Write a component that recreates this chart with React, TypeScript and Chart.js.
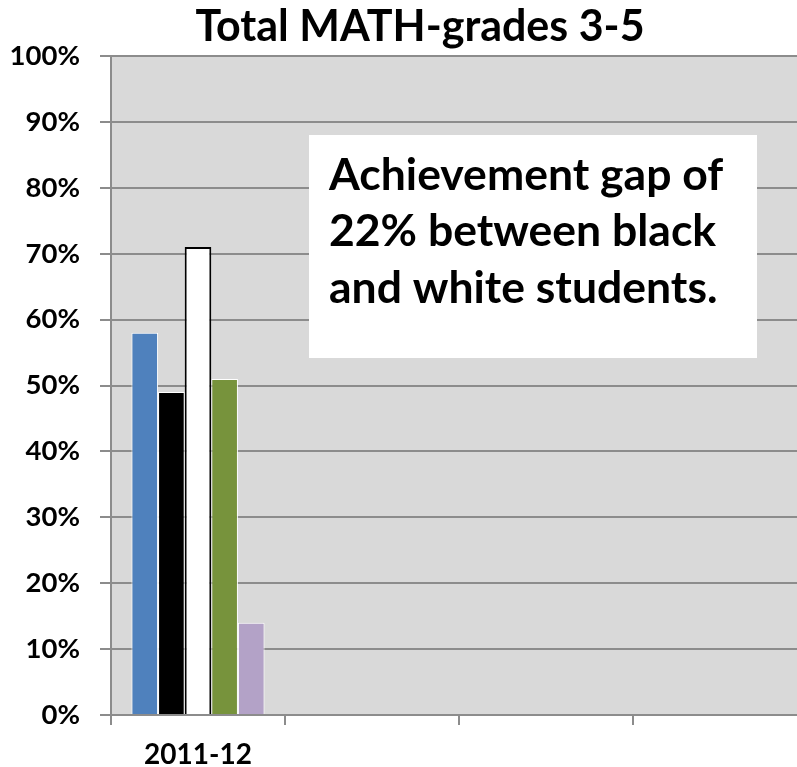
import React, { useEffect, useRef } from "react";
import { Chart, registerables } from "chart.js";

Chart.register(...registerables);

const categories = ["2011-12", "", "", ""];
const allStudents = [58, null, null, null];
const blackStudents = [49, null, null, null];
const whiteStudents = [71, null, null, null];
const econDisadv = [51, null, null, null];
const swd = [14, null, null, null];
const yTicks = [0, 10, 20, 30, 40, 50, 60, 70, 80, 90, 100];
const titleText = "Total MATH-grades 3-5";
const noteLines = ["Achievement gap of", "22% between black", "and white students."];

const FONT = "Lato, 'Open Sans', sans-serif";
const GRID = "#8C8C8C";

export default function App() {
  const ref = useRef<HTMLCanvasElement | null>(null);

  useEffect(() => {
    const canvas = ref.current;
    if (!canvas) return;

    const bgPlugin = {
      id: "bgPlugin",
      beforeDraw(chart: any) {
        const { ctx, chartArea } = chart;
        ctx.save();
        ctx.fillStyle = "#FFFFFF";
        ctx.fillRect(0, 0, chart.width, chart.height);
        ctx.fillStyle = "#D9D9D9";
        ctx.fillRect(chartArea.left, chartArea.top, chartArea.right - chartArea.left, chartArea.bottom - chartArea.top);
        ctx.restore();
      },
      afterDraw(chart: any) {
        const { ctx } = chart;
        ctx.save();
        // title
        ctx.fillStyle = "#000";
        ctx.font = `bold 43px ${FONT}`;
        ctx.textAlign = "center";
        ctx.textBaseline = "alphabetic";
        ctx.fillText(titleText, 420, 41);
        // note box
        ctx.fillStyle = "#FFFFFF";
        ctx.fillRect(309, 135, 448, 223);
        ctx.fillStyle = "#000";
        ctx.font = `bold 44.5px ${FONT}`;
        ctx.textAlign = "left";
        const baselines = [190, 246, 303];
        noteLines.forEach((l, i) => ctx.fillText(l, 329, baselines[i]));
        ctx.restore();
      },
    };

    const mk = (label: string, data: any[], bg: string, border: string, bw: number) => ({
      label,
      data,
      backgroundColor: bg,
      borderColor: border,
      borderWidth: bw,
      categoryPercentage: 0.765,
      barPercentage: 1,
    });

    const chart = new Chart(canvas, {
      type: "bar",
      data: {
        labels: categories,
        datasets: [
          mk("All", allStudents, "#4F81BD", "#FFFFFF", 1),
          mk("Black", blackStudents, "#000000", "#FFFFFF", 1),
          mk("White", whiteStudents, "#FFFFFF", "#000000", 2),
          mk("Econ", econDisadv, "#77933C", "#FFFFFF", 1),
          mk("SWD", swd, "#B3A2C7", "#FFFFFF", 1),
        ],
      },
      options: {
        responsive: false,
        animation: false,
        devicePixelRatio: 1,
        layout: { padding: { top: 56, right: 33, left: 0, bottom: 0 } },
        plugins: {
          legend: { display: false },
          title: { display: false },
          tooltip: { enabled: false },
        },
        scales: {
          x: {
            grid: {
              drawOnChartArea: false,
              offset: true,
              tickLength: 10,
              color: GRID,
              lineWidth: 2,
            },
            border: { display: true, color: GRID, width: 2 },
            ticks: {
              color: "#000",
              font: { family: FONT, weight: "bold", size: 28 },
              padding: 13,
              maxRotation: 0,
            },
            afterFit(scale: any) {
              scale.height = 52;
            },
          },
          y: {
            min: 0,
            max: 100,
            afterBuildTicks(scale: any) {
              scale.ticks = yTicks.map((v) => ({ value: v }));
            },
            grid: { color: GRID, lineWidth: 2, tickLength: 11 },
            border: { display: true, color: GRID, width: 2 },
            ticks: {
              color: "#000",
              font: { family: FONT, weight: "bold", size: 27.5 },
              padding: 20,
              callback: (v: any) => `${v}%`,
            },
            afterFit(scale: any) {
              scale.width = 111;
            },
          },
        },
      },
      plugins: [bgPlugin],
    } as any);

    return () => chart.destroy();
  }, []);

  return (
    <div style={{ position: "fixed", left: 0, top: 0, width: 797, height: 767, overflow: "hidden", background: "#fff" }}>
      <canvas ref={ref} width={840} height={767} style={{ display: "block", width: 840, height: 767 }} />
    </div>
  );
}
